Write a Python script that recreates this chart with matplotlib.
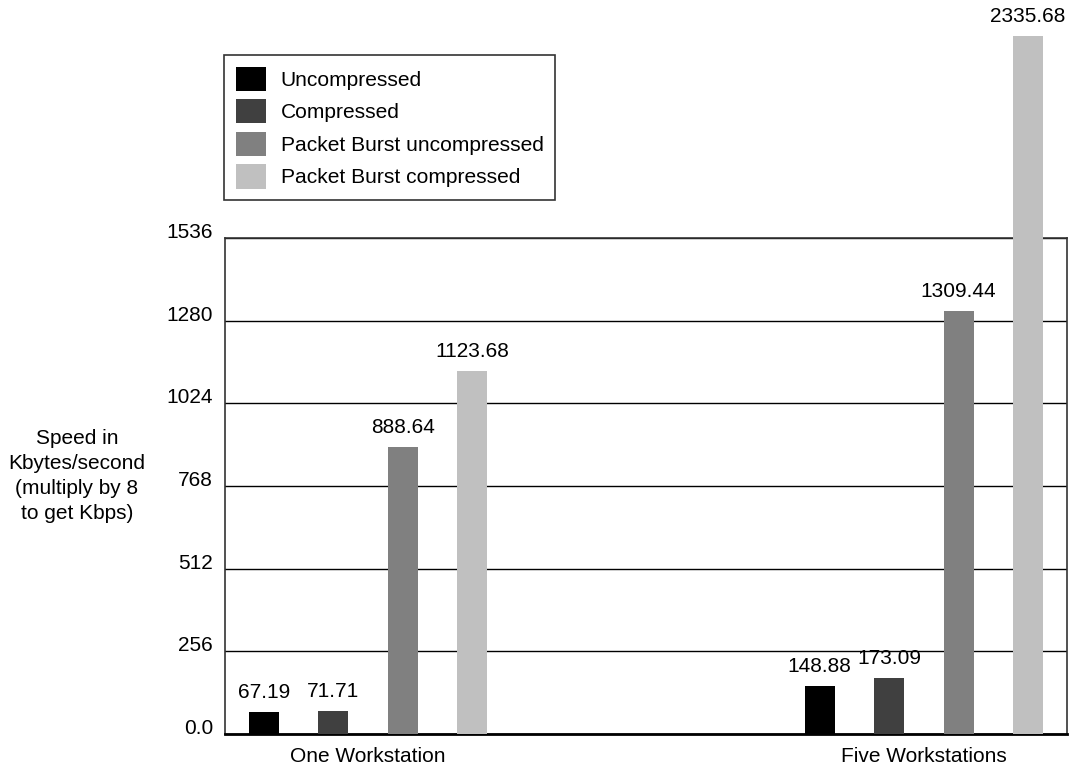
import matplotlib
matplotlib.use("Agg")
import matplotlib.pyplot as plt
import numpy as np

# Daten aus der Grafik
groups = ["One Workstation", "Five Workstations"]
series = ["Uncompressed", "Compressed", "Packet Burst uncompressed", "Packet Burst compressed"]
uncompressed = [67.19, 148.88]
compressed = [71.71, 173.09]
burst_uncompressed = [888.64, 1309.44]
burst_compressed = [1123.68, 2335.68]
yticks = [0, 256, 512, 768, 1024, 1280, 1536]
ytick_labels = ["0.0", "256", "512", "768", "1024", "1280", "1536"]

colors = ["#000000", "#404040", "#808080", "#c0c0c0"]
values = [uncompressed, compressed, burst_uncompressed, burst_compressed]

plt.rcParams["font.family"] = ["Liberation Sans", "DejaVu Sans"]
plt.rcParams["font.size"] = 15

fig = plt.figure(figsize=(10.73, 7.72), dpi=100)
ax = fig.add_axes([225 / 1073, 1 - 734 / 772, 842 / 1073, 496 / 772])
ax.set_xlim(-0.2576, 1.2576)
ax.set_ylim(0, 1536)

# hoeste synlige vaerdi (toppen af figuren minus plads til tal)
fig.canvas.draw()
cap = ax.transData.inverted().transform(fig.transFigure.transform((0, 1 - 36 / 772)))[1]

x = np.arange(len(groups))
pitch = 0.125
width = 0.054
for i, (name, vals, c) in enumerate(zip(series, values, colors)):
    xs = x + (i - 1.5) * pitch
    shown = [min(v, cap) for v in vals]
    ax.bar(xs, shown, width, color=c, label=name, zorder=3, clip_on=False)
    for xx, h, v in zip(xs, shown, vals):
        ax.annotate(f"{v:.2f}", (xx, h), xytext=(0, 10), textcoords="offset points",
                    ha="center", va="baseline", fontsize=15, annotation_clip=False)

ax.set_yticks(yticks)
ax.set_yticklabels(ytick_labels)
for lab in ax.get_yticklabels():
    lab.set_va("baseline")
ax.set_xticks(x)
ax.set_xticklabels(groups)
ax.tick_params(axis="both", length=0)
ax.tick_params(axis="y", pad=8.5)
ax.tick_params(axis="x", pad=9)
ax.yaxis.grid(True, color="black", linewidth=1, zorder=1)
ax.set_axisbelow(True)

for s in ["top", "right", "left"]:
    ax.spines[s].set_linewidth(1.2)
    ax.spines[s].set_color("#333333")
ax.spines["bottom"].set_linewidth(2)
ax.spines["bottom"].set_color("black")
ax.spines["top"].set_zorder(2)

fig.text(77 / 1073, 1 - 476 / 772, "Speed in\nKbytes/second\n(multiply by 8\nto get Kbps)",
         ha="center", va="center", multialignment="center", linespacing=1.4, fontsize=15)

leg = fig.legend(loc="upper left", bbox_to_anchor=(224 / 1073, 1 - 55 / 772),
                 borderaxespad=0, fancybox=False, framealpha=1, edgecolor="#333333",
                 handlelength=1.44, handleheight=1.4, handletextpad=0.72,
                 labelspacing=0.4, borderpad=0.55, fontsize=15.1)
leg.get_frame().set_linewidth(1.2)

fig.savefig("out.png", dpi=100)
